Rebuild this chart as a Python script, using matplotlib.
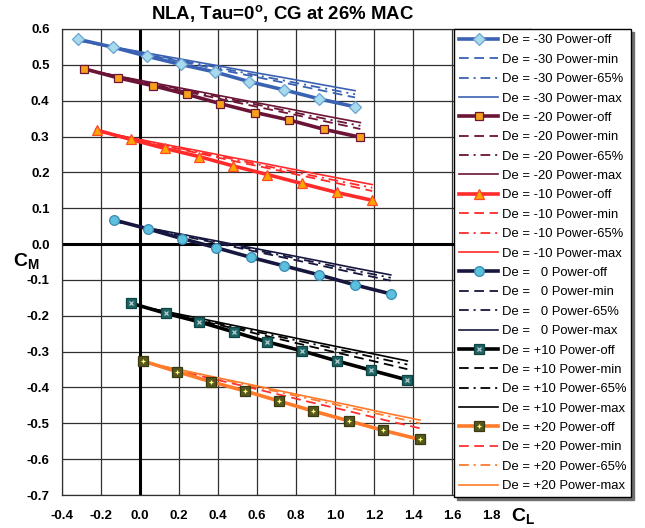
import numpy as np
import matplotlib.pyplot as plt
from matplotlib.legend_handler import HandlerTuple

plt.rcParams['font.family'] = ['Liberation Sans', 'DejaVu Sans']
plt.rcParams['mathtext.fontset'] = 'custom'
plt.rcParams['mathtext.rm'] = 'Liberation Sans'
plt.rcParams['mathtext.bf'] = 'Liberation Sans:bold'
plt.rcParams['lines.scale_dashes'] = False

#%% data (CL, CM)
de_names = ["-30", "-20", "-10", "  0", "+10", "+20"]

cl_m30 = [-0.316, -0.137, 0.036, 0.210, 0.385, 0.561, 0.740, 0.919, 1.103]
cm_m30_off = [0.571, 0.549, 0.524, 0.501, 0.480, 0.453, 0.430, 0.405, 0.383]
cm_m30_min = [0.568, 0.548, 0.529, 0.509, 0.489, 0.470, 0.450, 0.430, 0.409]
cm_m30_65 = [0.568, 0.549, 0.531, 0.512, 0.494, 0.475, 0.456, 0.437, 0.418]
cm_m30_max = [0.568, 0.550, 0.533, 0.516, 0.499, 0.481, 0.464, 0.446, 0.428]

cl_m20 = [-0.286, -0.114, 0.065, 0.239, 0.410, 0.591, 0.766, 0.945, 1.130]
cm_m20_off = [0.489, 0.464, 0.442, 0.418, 0.392, 0.367, 0.346, 0.320, 0.298]
cm_m20_min = [0.487, 0.467, 0.446, 0.425, 0.405, 0.384, 0.364, 0.343, 0.321]
cm_m20_65 = [0.487, 0.468, 0.448, 0.429, 0.410, 0.390, 0.370, 0.350, 0.330]
cm_m20_max = [0.487, 0.469, 0.450, 0.432, 0.414, 0.395, 0.377, 0.358, 0.339]

cl_m10 = [-0.222, -0.048, 0.127, 0.303, 0.478, 0.653, 0.829, 1.009, 1.191]
cm_m10_off = [0.318, 0.292, 0.267, 0.244, 0.218, 0.194, 0.169, 0.144, 0.122]
cm_m10_min = [0.315, 0.294, 0.274, 0.253, 0.232, 0.212, 0.191, 0.170, 0.148]
cm_m10_65 = [0.315, 0.296, 0.276, 0.256, 0.237, 0.217, 0.197, 0.177, 0.157]
cm_m10_max = [0.315, 0.297, 0.278, 0.260, 0.241, 0.223, 0.204, 0.185, 0.166]

cl_0 = [-0.132, 0.043, 0.217, 0.390, 0.568, 0.740, 0.919, 1.103, 1.286]
cm_0_off = [0.067, 0.042, 0.015, -0.010, -0.037, -0.061, -0.086, -0.114, -0.139]
cm_0_min = [0.064, 0.044, 0.023, 0.003, -0.018, -0.038, -0.059, -0.081, -0.102]
cm_0_65 = [0.064, 0.045, 0.025, 0.006, -0.014, -0.033, -0.053, -0.074, -0.094]
cm_0_max = [0.064, 0.045, 0.027, 0.009, -0.010, -0.028, -0.047, -0.067, -0.086]

cl_p10 = [-0.046, 0.132, 0.304, 0.481, 0.653, 0.831, 1.010, 1.185, 1.371]
cm_p10_off = [-0.165, -0.193, -0.217, -0.245, -0.273, -0.298, -0.326, -0.352, -0.379]
cm_p10_min = [-0.168, -0.191, -0.213, -0.235, -0.257, -0.280, -0.303, -0.325, -0.349]
cm_p10_65 = [-0.168, -0.189, -0.210, -0.231, -0.251, -0.272, -0.293, -0.314, -0.336]
cm_p10_max = [-0.168, -0.188, -0.207, -0.227, -0.246, -0.266, -0.286, -0.305, -0.326]

cl_p20 = [0.014, 0.191, 0.364, 0.540, 0.714, 0.889, 1.070, 1.248, 1.436]
cm_p20_off = [-0.326, -0.356, -0.384, -0.410, -0.438, -0.466, -0.493, -0.520, -0.545]
cm_p20_min = [-0.329, -0.352, -0.375, -0.397, -0.420, -0.443, -0.466, -0.490, -0.514]
cm_p20_65 = [-0.329, -0.350, -0.371, -0.392, -0.413, -0.434, -0.456, -0.477, -0.500]
cm_p20_max = [-0.329, -0.349, -0.369, -0.389, -0.409, -0.429, -0.449, -0.470, -0.491]

x_ticks = ["-0.4", "-0.2", "0.0", "0.2", "0.4", "0.6", "0.8", "1.0", "1.2", "1.4", "1.6", "1.8", ""]
y_ticks = ["-0.7", "-0.6", "-0.5", "-0.4", "-0.3", "-0.2", "-0.1", "0.0", "0.1", "0.2", "0.3", "0.4", "0.5", "0.6"]

#%% styles per elevator setting
cl_all = [cl_m30, cl_m20, cl_m10, cl_0, cl_p10, cl_p20]
cm_all = [
    (cm_m30_off, cm_m30_min, cm_m30_65, cm_m30_max),
    (cm_m20_off, cm_m20_min, cm_m20_65, cm_m20_max),
    (cm_m10_off, cm_m10_min, cm_m10_65, cm_m10_max),
    (cm_0_off, cm_0_min, cm_0_65, cm_0_max),
    (cm_p10_off, cm_p10_min, cm_p10_65, cm_p10_max),
    (cm_p20_off, cm_p20_min, cm_p20_65, cm_p20_max),
]
line_col = ['#3A62B2', '#6C1436', '#FF2A2A', '#16163E', '#000000', '#FF7A2A']
min_col = ['#3A62B2', '#6C1436', '#FF2A2A', '#16163E', '#000000', '#FF3030']
mk = ['D', 's', '^', 'o', 's', 's']
mk_face = ['#A8DAEE', '#F7A21B', '#FFA500', '#5BC0DE', '#1E6464', '#56561E']
mk_edge = ['#6AA4D0', '#6C1436', '#FF4A2A', '#3A8AB0', '#0E4444', '#3A3A10']
mk_size = [6.5, 6, 6.5, 7, 6.5, 6.5]
overlay = [None, None, None, None, ('x', '#B8D0D0'), ('+', '#FFFF70')]

fig = plt.figure(figsize=(6.45, 5.28), dpi=100)
ax = fig.add_axes([62/645, 33/528, 468/645, 466/528])

ax.set_xlim(-0.4, 2.0)
ax.set_ylim(-0.7, 0.6)
ax.set_xticks(np.linspace(-0.4, 2.0, 13))
ax.set_yticks(np.linspace(-0.7, 0.6, 14))
ax.set_xticklabels(x_ticks)
ax.set_yticklabels(y_ticks)
ax.grid(True, color='#303030', linewidth=0.9)
ax.set_axisbelow(True)
ax.tick_params(length=0, labelsize=9.5)
ax.tick_params(axis='x', pad=11)
ax.tick_params(axis='y', pad=9)
for lab in ax.get_xticklabels() + ax.get_yticklabels():
    lab.set_fontweight('bold')
for s in ax.spines.values():
    s.set_color('#303030')
    s.set_linewidth(0.9)

ax.axhline(0, color='black', linewidth=2.2, zorder=1.5)
ax.axvline(0, color='black', linewidth=2.2, zorder=1.5)

handles = []
labels = []
for i in range(6):
    x = cl_all[i]
    off, pmin, p65, pmax = cm_all[i]
    h_off, = ax.plot(x, off, color=line_col[i], lw=2.6, marker=mk[i],
                     ms=mk_size[i], mfc=mk_face[i], mec=mk_edge[i], mew=0.9, zorder=3)
    h_list = [h_off]
    if overlay[i] is not None:
        h_ov, = ax.plot(x, off, linestyle='none', marker=overlay[i][0], ms=3.5,
                        mec=overlay[i][1], mew=0.9, zorder=3.1)
        h_list.append(h_ov)
    h_min, = ax.plot(x, pmin, color=min_col[i], lw=1.3, dashes=(7, 4), zorder=2.5)
    h_65, = ax.plot(x, p65, color=line_col[i], lw=1.3, dashes=(7, 3.5, 1.5, 3.5), zorder=2.5)
    h_max, = ax.plot(x, pmax, color=line_col[i], lw=1.2, zorder=2.5)
    handles += [tuple(h_list), h_min, h_65, h_max]
    labels += [f"De = {de_names[i]} Power-off", f"De = {de_names[i]} Power-min",
               f"De = {de_names[i]} Power-65%", f"De = {de_names[i]} Power-max"]

leg = fig.legend(handles, labels, loc='upper left', bbox_to_anchor=(454/645, 1 - 29/528),
                 fontsize=9.4, handlelength=3.0, handletextpad=0.25, labelspacing=0.555,
                 borderpad=0.4, borderaxespad=0, fancybox=False, framealpha=1,
                 edgecolor='black', shadow={'color': '#707070', 'alpha': 1},
                 handler_map={tuple: HandlerTuple(ndivide=1)})
leg.get_frame().set_linewidth(1.0)

fig.text(283/645, 1 - 14/528, r"NLA, Tau=0$^{\mathbf{o}}$, CG at 26% MAC",
         ha='center', va='center', fontsize=13.4, fontweight='bold')
fig.text(26/645, 1 - 261/528, r"$\mathbf{C_M}$", ha='center', va='center', fontsize=14)
fig.text(523/645, 1 - 516/528, r"$\mathbf{C_L}$", ha='center', va='center', fontsize=14)

fig.savefig('out.png', dpi=100)
